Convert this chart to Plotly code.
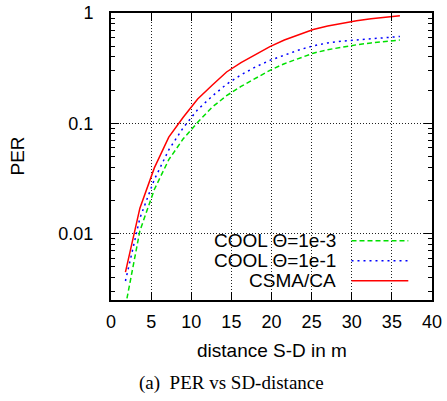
import numpy as np
import plotly.graph_objects as go

# ---- data ----
distance = [1.8, 3.6, 5.4, 7.2, 9.0, 10.8, 12.6, 14.4, 16.2, 18.0,
            19.8, 21.6, 23.4, 25.2, 27.0, 28.8, 30.6, 32.4, 34.2, 36.0]
per_cool_1e3 = [0.00219, 0.0106, 0.0251, 0.0468, 0.0724, 0.102, 0.140, 0.178, 0.216, 0.257,
                0.302, 0.347, 0.389, 0.432, 0.465, 0.492, 0.515, 0.535, 0.552, 0.569]
per_cool_1e1 = [0.00372, 0.0138, 0.0309, 0.0575, 0.0912, 0.133, 0.176, 0.226, 0.275, 0.324,
                0.372, 0.417, 0.462, 0.504, 0.535, 0.556, 0.571, 0.586, 0.600, 0.612]
per_csma = [0.00447, 0.0170, 0.0394, 0.0750, 0.1135, 0.166, 0.221, 0.292, 0.355, 0.422,
            0.495, 0.569, 0.638, 0.708, 0.762, 0.809, 0.851, 0.885, 0.916, 0.944]

series_names = ["COOL \u0398=1e-3", "COOL \u0398=1e-1", "CSMA/CA"]
series_colors = ["#00e000", "#0000ff", "#ff0000"]
series_dash = ["5px,3px", "2px,4px", "solid"]

x_ticks = [0, 5, 10, 15, 20, 25, 30, 35, 40]
y_ticks = [0.01, 0.1, 1]
y_tick_labels = ["0.01", "0.1", "1"]
y_minor = [m * 10.0 ** e for e in (-3, -2, -1) for m in range(2, 10)]

W, H = 447, 401
L, R, T, B = 111, 15, 13, 101
pw, ph = W - L - R, H - T - B

def px_x(p):
    return (p - L) / pw

def px_y(p):
    return (H - B - p) / ph

fig = go.Figure()
for name, ys, col, dash in zip(series_names, [per_cool_1e3, per_cool_1e1, per_csma],
                               series_colors, series_dash):
    fig.add_trace(go.Scatter(x=distance, y=ys, mode="lines", name=name,
                             line=dict(color=col, width=1.5, dash=dash),
                             showlegend=False, hoverinfo="skip"))

font_sans = "Liberation Sans, Arial, sans-serif"

fig.update_layout(
    template="none",
    width=W, height=H,
    margin=dict(l=L, r=R, t=T, b=B, pad=0, autoexpand=False),
    paper_bgcolor="white", plot_bgcolor="white",
    font=dict(family=font_sans, size=18, color="black"),
)

axis_common = dict(
    automargin=False,
    showline=True, linecolor="black", linewidth=2, mirror="ticks",
    ticks="inside", ticklen=8, tickwidth=1.2, tickcolor="black",
    showgrid=True, gridcolor="#222222", gridwidth=1, griddash="1px,2px",
    zeroline=False, tickfont=dict(size=18, family=font_sans, color="black"),
)

fig.update_xaxes(range=[0, 40], tickvals=x_ticks, ticklabelstandoff=4, **axis_common)
fig.update_yaxes(type="log", range=[np.log10(0.0025), 0], tickvals=y_ticks,
                 ticktext=y_tick_labels, ticklabelstandoff=12,
                 minor=dict(ticks="inside", ticklen=4, tickwidth=1, tickcolor="black",
                            tickvals=y_minor, showgrid=False),
                 **axis_common)

# legend background box (covers grid)
fig.add_shape(type="rect", xref="paper", yref="paper",
              x0=px_x(205), x1=1.0, y0=0.0, y1=px_y(230.5),
              fillcolor="white", line=dict(width=0), layer="between")

legend_y = [240.7, 260.7, 280.7]
for name, col, dash, yy in zip(series_names, series_colors, series_dash, legend_y):
    fig.add_annotation(xref="paper", yref="paper", x=px_x(338), y=px_y(yy),
                       text=name, showarrow=False, xanchor="right", yanchor="middle",
                       font=dict(size=19, family=font_sans))
    fig.add_shape(type="line", xref="paper", yref="paper",
                  x0=px_x(351.5), x1=px_x(408.3), y0=px_y(yy), y1=px_y(yy),
                  line=dict(color=col, width=1.5, dash=dash), layer="above")

# axis titles and caption
fig.add_annotation(xref="paper", yref="paper", x=0.5, y=px_y(350),
                   text="distance S-D in m", showarrow=False,
                   xanchor="center", yanchor="middle", font=dict(size=19, family=font_sans))
fig.add_annotation(xref="paper", yref="paper", x=px_x(17), y=0.5,
                   text="PER", showarrow=False, textangle=-90,
                   xanchor="center", yanchor="middle", font=dict(size=19, family=font_sans))
fig.add_annotation(xref="paper", yref="paper", x=px_x(231), y=px_y(383),
                   text="(a)  PER vs SD-distance", showarrow=False,
                   xanchor="center", yanchor="middle",
                   font=dict(size=19, family="Liberation Serif, Times New Roman, serif"))

fig.write_html("out.html", config={"displayModeBar": False},
               post_script="document.body.style.margin='0';")
